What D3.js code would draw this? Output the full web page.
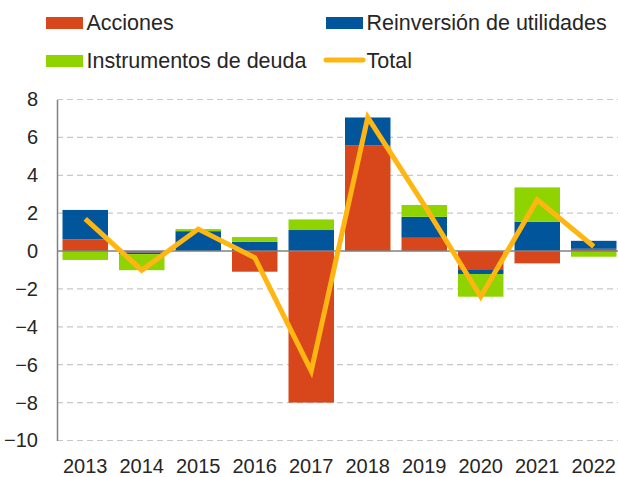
<!DOCTYPE html>
<html>
<head>
<meta charset="utf-8">
<script src="https://cdn.jsdelivr.net/npm/d3@7"></script>
<style>
  html, body { margin: 0; padding: 0; background: #ffffff; }
  svg { display: block; }
  text { font-family: "Liberation Sans", Arial, sans-serif; fill: #262626; }
</style>
</head>
<body>
<script>
const years = ["2013","2014","2015","2016","2017","2018","2019","2020","2021","2022"];
const acciones      = [0.62, -0.08, 0.00, -1.09, -8.00, 5.59, 0.70, -1.00, -0.65, 0.12];
const reinversion   = [1.55, -0.08, 1.05,  0.49,  1.11, 1.46, 1.11, -0.21,  1.55, 0.42];
const instrumentos  = [-0.47, -0.85, 0.11, 0.25,  0.56, 0.00, 0.62, -1.20,  1.81, -0.30];
const total         = [1.70, -1.01, 1.16, -0.35, -6.33, 7.05, 2.43, -2.41,  2.71, 0.24];
const yTicks = [-10, -8, -6, -4, -2, 0, 2, 4, 6, 8];
const seriesNames = ["Acciones", "Reinversión de utilidades", "Instrumentos de deuda", "Total"];
const colors = { acciones: "#D8461B", reinversion: "#00559B", instrumentos: "#8FD400", total: "#FFB612" };

const W = 618, H = 477;
const svg = d3.select("body").append("svg").attr("width", W).attr("height", H);

const x = d3.scaleBand().domain(years).range([57, 622]).paddingInner(0.195).paddingOuter(0.0975);
const y = d3.scaleLinear().domain([-10, 8]).range([440.5, 99.5]);

// gridlines
svg.append("g").selectAll("line").data(yTicks.filter(t => t !== 0)).join("line")
  .attr("x1", 57).attr("x2", W).attr("y1", d => y(d)).attr("y2", d => y(d))
  .attr("stroke", "#c8c8c8").attr("stroke-width", 1.2).attr("stroke-dasharray", "6,4");

// stacked bars (positive up, negative down separately)
const stackSeries = [
  { key: "acciones", vals: acciones },
  { key: "reinversion", vals: reinversion },
  { key: "instrumentos", vals: instrumentos }
];
const rects = [];
years.forEach((yr, i) => {
  let pos = 0, neg = 0;
  stackSeries.forEach(s => {
    const v = s.vals[i];
    if (v >= 0) { rects.push({ yr, key: s.key, y0: pos, y1: pos + v }); pos += v; }
    else { rects.push({ yr, key: s.key, y0: neg + v, y1: neg }); neg += v; }
  });
});
svg.append("g").selectAll("rect").data(rects.filter(r => r.y1 - r.y0 > 0)).join("rect")
  .attr("x", d => x(d.yr)).attr("width", x.bandwidth())
  .attr("y", d => y(d.y1)).attr("height", d => y(d.y0) - y(d.y1))
  .attr("fill", d => colors[d.key]);

// zero line
svg.append("line").attr("x1", 57).attr("x2", W).attr("y1", y(0)).attr("y2", y(0))
  .attr("stroke", "#808080").attr("stroke-width", 1.5);

// y axis
const yAxis = d3.axisLeft(y).tickValues(yTicks).tickSize(0).tickPadding(19).tickFormat(d3.format("d"));
const ga = svg.append("g").attr("transform", "translate(57,0)").call(yAxis);
ga.select(".domain").attr("stroke", "#808080").attr("stroke-width", 1.5);
ga.selectAll("text").style("font-size", "20px").attr("fill", "#262626")
  .style("font-family", "'Liberation Sans', Arial, sans-serif");

// x axis labels
const xAxis = d3.axisBottom(x).tickSize(0).tickPadding(18);
const gx = svg.append("g").attr("transform", `translate(0,${y(-10)})`).call(xAxis);
gx.select(".domain").remove();
gx.selectAll("text").style("font-size", "20px").attr("fill", "#262626")
  .style("font-family", "'Liberation Sans', Arial, sans-serif");

// total line
const line = d3.line().x((d, i) => x(years[i]) + x.bandwidth() / 2).y(d => y(d));
svg.append("path").datum(total).attr("d", line)
  .attr("fill", "none").attr("stroke", colors.total).attr("stroke-width", 5)
  .attr("stroke-linejoin", "miter").attr("stroke-miterlimit", 10);

// legend
const leg = svg.append("g");
const legItems = [
  { name: seriesNames[0], c: colors.acciones, type: "rect", x: 46, y: 23 },
  { name: seriesNames[1], c: colors.reinversion, type: "rect", x: 326, y: 23 },
  { name: seriesNames[2], c: colors.instrumentos, type: "rect", x: 46, y: 61 },
  { name: seriesNames[3], c: colors.total, type: "line", x: 326, y: 61 }
];
legItems.forEach(it => {
  if (it.type === "rect") {
    leg.append("rect").attr("x", it.x).attr("y", it.y - 6).attr("width", 37).attr("height", 12).attr("fill", it.c);
  } else {
    leg.append("line").attr("x1", it.x).attr("x2", it.x + 37).attr("y1", it.y - 1).attr("y2", it.y - 1)
      .attr("stroke", it.c).attr("stroke-width", 5).attr("stroke-linecap", "round");
  }
  leg.append("text").attr("x", it.x + 40.5).attr("y", it.y + 6.5).style("font-size", "21.5px").text(it.name);
});
</script>
</body>
</html>
